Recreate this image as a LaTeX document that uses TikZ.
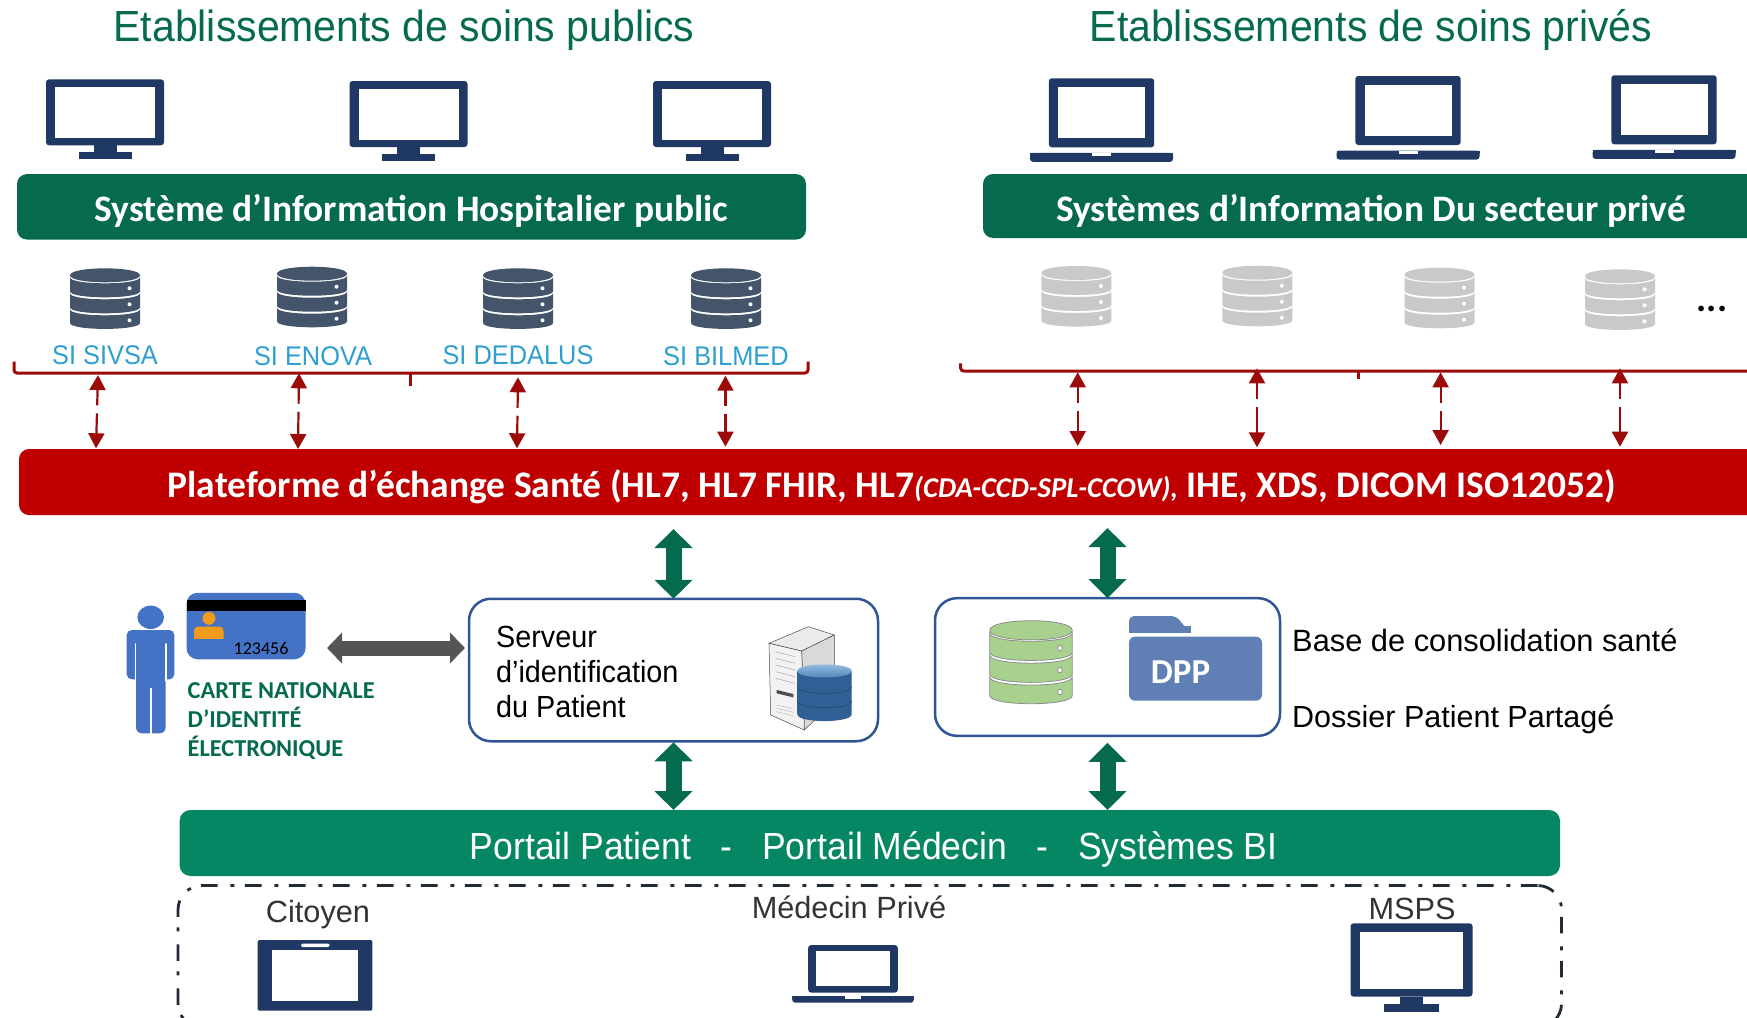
\documentclass[tikz,border=0pt]{standalone}
\usepackage{fontspec}
\usepackage{xcolor}
\setmainfont{Liberation Sans}
\newfontfamily\calibri{Carlito}
\newfontfamily\etroit[FakeStretch=0.94]{Liberation Sans}
\usetikzlibrary{arrows.meta, positioning, calc}

\definecolor{vertfonce}{HTML}{066A4F}
\definecolor{vertportail}{HTML}{058763}
\definecolor{rougeplat}{HTML}{C00000}
\definecolor{rougefleche}{HTML}{9C0A0A}
\definecolor{bleunuit}{HTML}{1F3864}
\definecolor{dbsombre}{HTML}{44546A}
\definecolor{dbgris}{HTML}{C9C9C9}
\definecolor{dbvert}{HTML}{A9D18E}
\definecolor{bleusi}{HTML}{2E9FD0}
\definecolor{bleucadre}{HTML}{2F5597}
\definecolor{bleucarte}{HTML}{4472C4}
\definecolor{bleudpp}{HTML}{5F7FB5}
\definecolor{orangecarte}{HTML}{F09B1C}
\definecolor{noirtrait}{HTML}{222B35}
\definecolor{cylbord}{HTML}{2F5F95}
\definecolor{cylmilieu}{HTML}{7FB0DA}
\definecolor{cylhaut}{HTML}{9CC2E5}
\definecolor{cylbas}{HTML}{4A7FB5}
\definecolor{cyltrait}{HTML}{24466E}

\tikzset{
    monitor/.pic={
        \fill[bleunuit, rounded corners=3pt] (-59,0) rectangle (59,66);
        \fill[white] (-50,7.5) rectangle (50,59);
        \fill[bleunuit] (-11.5,66) rectangle (11.5,73.5);
        \fill[bleunuit] (-26.5,73) rectangle (26.5,80);
    },
    laptop/.pic={
        \fill[bleunuit, rounded corners=3pt] (-52.7,0) -- (52.7,0) -- (52.7,69) -- (-52.7,69) -- cycle;
        \fill[white] (-43.5,9) rectangle (43.5,60);
        \fill[bleunuit, rounded corners=3pt] (-71.5,74.5) -- (71.5,74.5) -- (71.5,83.6) -- (-71.5,83.6) -- cycle;
        \fill[bleunuit] (-71.5,74.5) rectangle (71.5,78);
        \fill[white] (-9.5,74.5) rectangle (9.5,77.6);
    },
    dbicon/.pic={
        \path[pic actions] (-35,7) .. controls (-35,-2.3) and (35,-2.3) .. (35,7) .. controls (35,16.3) and (-35,16.3) .. (-35,7) -- cycle;
        \foreach \yh/\yb in {9/23,25/39,41/54.6}{
            \path[pic actions] (-35,\yh) .. controls (-35,\yh+8) and (35,\yh+8) .. (35,\yh) -- (35,\yb) .. controls (35,\yb+8) and (-35,\yb+8) .. (-35,\yb) -- cycle;
            \path[pic actions, fill=white] (24.5,\yh+11) circle (2);
        }
    }
}

\begin{document}
\begin{tikzpicture}[
    x=1pt, y=-1pt,
    titre/.style={anchor=base, text=vertfonce, font=\etroit\fontsize{43.6}{52}\selectfont, inner sep=0},
    barre/.style={rectangle, rounded corners=10pt, inner sep=0, outer sep=0, text=white, text height=30pt, text depth=0pt, font=\calibri\bfseries\fontsize{37.4}{45}\selectfont},
    silabel/.style={anchor=base, text=bleusi, font=\etroit\fontsize{27}{33}\selectfont, inner sep=0},
    boite/.style={rectangle, draw=bleucadre, line width=2.5pt, rounded corners=22pt, fill=white, inner sep=0, outer sep=0},
    legende/.style={anchor=base west, font=\fontsize{30.8}{37}\selectfont, inner sep=0},
    acteur/.style={anchor=base, text=black!80, font=\fontsize{30.7}{37}\selectfont, inner sep=0},
    accolade/.style={draw=rougefleche, line width=3pt, rounded corners=3pt},
    fleche/.style={draw=rougefleche, line width=2.2pt, dash pattern=on 16pt off 8pt on 60pt off 0pt, {Triangle[length=15pt,width=16pt]}-{Triangle[length=15pt,width=16pt]}},
    flecheverte/.style={draw=vertfonce, line width=16pt, {Triangle[length=19pt,width=37pt]}-{Triangle[length=19pt,width=37pt]}},
    flechegrise/.style={draw=black!67, line width=15pt, {Triangle[length=15pt,width=30pt]}-{Triangle[length=15pt,width=30pt]}}
]
    \useasboundingbox (0,0) rectangle (1747,1017);
    \clip (0,0) rectangle (1747,1017);

    % Titres
    \node[titre] (publics) at (404,41.7) {Etablissements de soins publics};
    \node[titre] (prives) at (1371,41.7) {Etablissements de soins privés};

    % Postes
    \pic (mon1) at (105,79.3) {monitor};
    \pic (mon2) at (408.5,81) {monitor};
    \pic (mon3) at (712,81) {monitor};
    \pic (lap1) at (1101.5,78.3) {laptop};
    \pic (lap2) at (1408,76) {laptop};
    \pic (lap3) at (1664,75.3) {laptop};

    % Systemes d'information
    \node[barre, fill=vertfonce, minimum width=789pt, minimum height=65.5pt] (sih) at (411.5,206.8) {Système d’Information Hospitalier public};
    \node[barre, fill=vertfonce, minimum width=776pt, minimum height=64pt] (sip) at (1371,206) {Systèmes d’Information Du secteur privé};

    % Bases
    \pic[fill=dbsombre] (db1) at (105,268.3) {dbicon};
    \pic[fill=dbsombre] (db2) at (312,266.7) {dbicon};
    \pic[fill=dbsombre] (db3) at (518,268.3) {dbicon};
    \pic[fill=dbsombre] (db4) at (726,268.3) {dbicon};
    \pic[fill=dbgris] (dbp1) at (1076.4,266) {dbicon};
    \pic[fill=dbgris] (dbp2) at (1257.3,265.7) {dbicon};
    \pic[fill=dbgris] (dbp3) at (1439.5,267.7) {dbicon};
    \pic[fill=dbgris] (dbp4) at (1620,269.3) {dbicon};
    \node[anchor=base, inner sep=0, font=\calibri\bfseries\fontsize{38}{45}\selectfont] (suite) at (1712,311) {...};

    \node[silabel] (sivsa) at (105,364) {SI SIVSA};
    \node[silabel] (enova) at (313,365) {SI ENOVA};
    \node[silabel] (dedalus) at (518,364) {SI DEDALUS};
    \node[silabel] (bilmed) at (726,365) {SI BILMED};

    % Accolades
    \draw[accolade] (14,361.7) -- (14,373) -- (808,373) -- (808,361.7);
    \draw[draw=rougefleche, line width=3pt] (410.5,373) -- (410.5,385.7);
    \draw[accolade] (960.6,363.3) -- (960.6,371) -- (1760,371);
    \draw[draw=rougefleche, line width=3pt] (1358.3,371) -- (1358.3,379.3);

    % Plateforme
    \node[barre, fill=rougeplat, minimum width=1746pt, minimum height=66pt, font=\calibri\bfseries\fontsize{37.5}{45}\selectfont] (plateforme) at (892,482) {Plateforme d’échange Santé (HL7, HL7 FHIR, HL7{\itshape\fontsize{28.7}{33}\selectfont (CDA-CCD-SPL-CCOW),} IHE, XDS, DICOM ISO12052)};

    % Fleches SI / plateforme
    \foreach \nom/\xh/\yh/\xb/\yb in {a/98/375/96/448.3, b/299/373.3/298/449, c/518/377.3/517/448.3, d/725.4/375.7/725.4/446.7, e/1077.7/372.3/1077.7/446, f/1257/368.3/1257/447.3, g/1440.6/372.3/1440.6/445, h/1620/368.3/1620/446.7}{
        \coordinate (haut\nom) at (\xh,\yh);
        \coordinate (bas\nom) at (\xb,\yb);
        \draw[fleche] (haut\nom) -- (bas\nom);
    }

    % Personne et carte
    \fill[bleucarte] (150.7,617.3) ellipse [x radius=13.3pt, y radius=11.7pt];
    \fill[bleucarte, rounded corners=5pt] (126.7,630) rectangle (174.3,679.3);
    \fill[bleucarte, rounded corners=6pt] (136,650) rectangle (165.7,733.3);
    \draw[white, line width=1.6pt, line cap=round] (135.4,644) -- (135.4,681);
    \draw[white, line width=1.6pt, line cap=round] (166,644) -- (166,681);
    \draw[white, line width=2pt] (150.7,688) -- (150.7,735);

    \node[rectangle, fill=bleucarte, rounded corners=11pt, minimum width=119pt, minimum height=66.5pt, inner sep=0] (carte) at (246,626) {};
    \fill[black] (186.5,600) rectangle (306,611);
    \fill[orangecarte] (209,618.3) circle (6.5);
    \fill[orangecarte, rounded corners=4pt] (194,645) -- (194,626.5) -- (223.5,626.5) -- (223.5,645) -- cycle;
    \fill[bleucarte] (190,639) rectangle (228,647);
    \node[anchor=base, inner sep=0, font=\calibri\fontsize{18}{22}\selectfont] (numero) at (261,654) {123456};
    \node[anchor=north west, inner sep=0, align=left, text=vertfonce, font=\calibri\bfseries\fontsize{24.3}{29}\selectfont] (cnie) at (187.5,682.6) {CARTE NATIONALE\\D’IDENTITÉ\\ÉLECTRONIQUE};

    % Serveur
    \node[boite, minimum width=409pt, minimum height=142.5pt] (serveur) at (673.5,670) {};
    \node[anchor=north west, inner sep=0, align=left, font=\etroit\fontsize{30.6}{35}\selectfont] (serveurtxt) at (496,626) {Serveur\\d’identification\\du Patient};

    % Icone serveur
    \begin{scope}[shift={(755,615)}, x=0.3333pt, y=-0.3333pt]
        \filldraw[fill=black!8, draw=black!70, line width=0.5pt] (42,85) -- (160,35) -- (238,60) -- (140,108) -- cycle;
        \filldraw[fill=black!15, draw=black!70, line width=0.5pt] (140,108) -- (238,60) -- (238,260) -- (148,345) -- cycle;
        \filldraw[fill=black!5, draw=black!70, line width=0.5pt] (42,85) -- (140,108) -- (148,345) -- (47,300) -- cycle;
        \foreach \yl in {115,135,155,175,195}{
            \draw[black!40, line width=0.4pt] (62,\yl-5) -- (120,\yl+10);
        }
        \fill[black!70] (65,225) -- (115,237) -- (115,247) -- (65,235) -- cycle;
        \foreach \yl in {270,280,290}{
            \draw[black!30, line width=0.4pt] (65,\yl) -- (115,\yl+12);
        }
        \shade[left color=cylbord, middle color=cylmilieu, right color=cylbord] (127,168) -- (127,298) .. controls (127,325) and (290,325) .. (290,298) -- (290,168) -- cycle;
        \shade[top color=cylhaut, bottom color=cylbas] (127,168) .. controls (127,142) and (290,142) .. (290,168) .. controls (290,194) and (127,194) .. (127,168) -- cycle;
        \draw[cyltrait, line width=0.6pt] (127,215) .. controls (127,242) and (290,242) .. (290,215);
        \draw[cyltrait, line width=0.6pt] (127,258) .. controls (127,285) and (290,285) .. (290,258);
    \end{scope}

    % Base de consolidation
    \node[boite, minimum width=345pt, minimum height=137.7pt] (base) at (1107.5,667) {};
    \pic[fill=dbvert, draw=black!45, line width=0.8pt, xscale=1.18, yscale=1.37] (dbsante) at (1031,620.7) {dbicon};
    \fill[bleudpp, rounded corners=5pt] (1129,634) -- (1129,616) -- (1176,616) -- (1191,634) -- cycle;
    \fill[bleudpp] (1129,626) rectangle (1191,633.3);
    \fill[white] (1129,633.3) rectangle (1262,636.7);
    \node[rectangle, fill=bleudpp, rounded corners=6pt, minimum width=133pt, minimum height=64pt, inner sep=0] (dossier) at (1195.5,668.7) {};
    \node[anchor=base, inner sep=0, text=white, font=\calibri\bfseries\fontsize{35}{42}\selectfont] (dpp) at (1180.5,683) {DPP};
    \node[legende] (consolidation) at (1292,651) {Base de consolidation santé};
    \node[legende, font=\fontsize{30.5}{37}\selectfont] (partage) at (1292,727) {Dossier Patient Partagé};

    % Portail
    \node[barre, fill=vertportail, minimum width=1380.5pt, minimum height=66pt, text height=32pt, font=\etroit\fontsize{37.8}{45}\selectfont, rounded corners=11pt] (portail) at (869.8,843) {\hspace*{8pt}Portail Patient~~~-~~~Portail Médecin~~~-~~~Systèmes BI};

    % Fleches vertes et grise
    \draw[flecheverte, shorten <=14pt] (plateforme.south -| serveur.north) -- (serveur.north);
    \draw[flecheverte, shorten <=13pt] (plateforme.south -| base.north) -- (base.north);
    \draw[flecheverte, shorten <=1pt] (serveur.south) -- (portail.north -| serveur.south);
    \draw[flecheverte, shorten <=7pt] (base.south) -- (portail.north -| base.south);
    \coordinate (carteflech) at (327,648);
    \draw[flechegrise, shorten >=4pt] (carteflech) -- (carteflech -| serveur.west);

    % Acces utilisateurs
    \node[rectangle, draw=noirtrait, line width=2.8pt, rounded corners=24pt, minimum width=1383.5pt, minimum height=142pt, inner sep=0, dash pattern=on 16.6pt off 10.5pt on 4pt off 12.9pt] (cadre) at (869.8,956.5) {};
    \node[acteur] (citoyen) at (318,922) {Citoyen};
    \node[acteur] (medecin) at (849,918) {Médecin Privé};
    \node[acteur] (msps) at (1412,919.3) {MSPS};

    \fill[bleunuit, rounded corners=2pt] (257.6,940) rectangle (372.4,1010.7);
    \fill[white] (272,950) rectangle (358,1001.3);
    \fill[white, rounded corners=1.5pt] (301,943.5) rectangle (329.6,947);
    \pic[xscale=0.85, yscale=0.69] (lapmedecin) at (853,945) {laptop};
    \pic[xscale=1.034, yscale=1.11] (monmsps) at (1411.5,923.3) {monitor};

\end{tikzpicture}
\end{document}
